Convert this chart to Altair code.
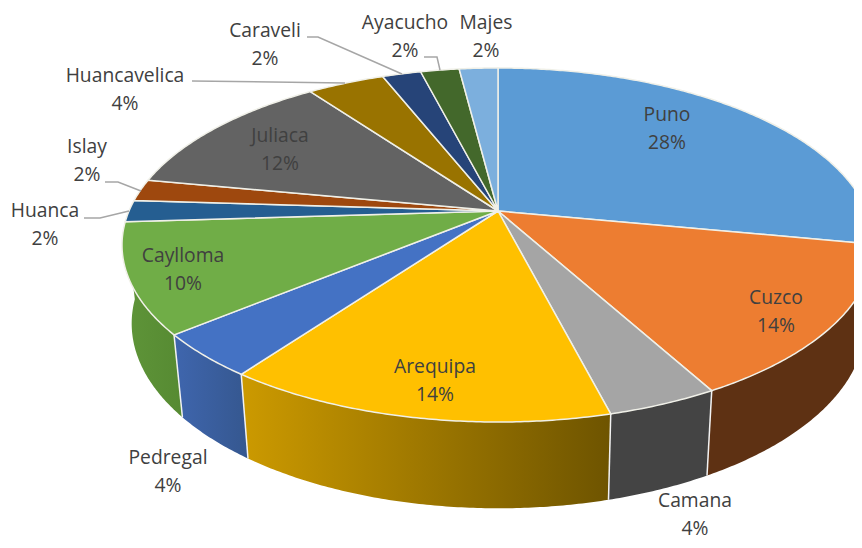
import math
import altair as alt

# ---- values ----
names = ["Puno", "Cuzco", "Camana", "Arequipa", "Pedregal", "Caylloma", "Huanca",
         "Islay", "Juliaca", "Huancavelica", "Caraveli", "Ayacucho", "Majes"]
values = [28, 14, 4, 14, 4, 10, 2, 2, 12, 4, 2, 2, 2]

# ---- styles ----
top_colors = ["#5b9bd5", "#ed7d31", "#a5a5a5", "#ffc000", "#4472c4", "#70ad47", "#255e91",
              "#9e480e", "#636363", "#997300", "#264478", "#43682b", "#7cafdd"]
side_left = {"Cuzco": "#5e3113", "Camana": "#444444", "Arequipa": "#cc9a00",
             "Pedregal": "#3f66ae", "Caylloma": "#5f9539"}
side_right = {"Cuzco": "#5e3113", "Camana": "#444444", "Arequipa": "#6e5400",
              "Pedregal": "#35578f", "Caylloma": "#568a32"}

# ---- layout (page pixels) ----
PAGE = 8
TOP = dict(cx=498.0, cy=211.0, b=369.0, a=170.5, k=0.192)
BOTTOM = dict(cx=498.5, cy=288.0, b=360.0, a=178.0, k=0.192)
label_x = [667, 776, 695, 435, 168, 183, 45, 87, 280, 125, 265, 405, 486]
label_y = [115, 298, 501, 367, 458, 256, 211, 147, 136, 76, 31, 23, 23]
LINE_GAP = 28
leaders = [
    [(307, 37), (318, 37), (402, 74)],
    [(192, 81), (345, 83)],
    [(105, 182), (118, 182), (141, 191)],
    [(84, 218), (100, 218), (129, 211)],
    [(424, 57), (437, 57), (440, 70)],
]


def rim(theta, m):
    t = math.radians(theta)
    X, Y = math.sin(t), math.cos(t)
    d = 1 + m["k"] * Y
    return [m["cx"] + m["b"] * X / d - PAGE, m["cy"] - m["a"] * Y / d - PAGE]


def arc(t0, t1, m):
    n = max(2, int(abs(t1 - t0) * 2))
    return [rim(t0 + (t1 - t0) * i / n, m) for i in range(n + 1)]


def feature(kind, coords, **props):
    return {"type": "Feature", "properties": props,
            "geometry": {"type": kind, "coordinates": coords}}


def dataset(features):
    return alt.InlineData(values={"type": "FeatureCollection", "features": features},
                          format=alt.DataFormat(type="json", property="features"))


identity = dict(type="identity", scale=1, translate=[0, 0])
FOLD = 259.0
total = sum(values)
bounds = [0]
for v in values:
    bounds.append(bounds[-1] + v)
angles = [b / total * 360 for b in bounds]

layers = []
edges = []
for i, name in enumerate(names):
    if name not in side_left:
        continue
    t0, t1 = angles[i], angles[i + 1]
    cuts = [t0, t1] if not (t0 < FOLD < t1) else [t0, FOLD, t1]
    polys = []
    for a, b in zip(cuts[:-1], cuts[1:]):
        ring = arc(a, b, TOP) + arc(b, a, BOTTOM)
        polys.append([ring + [ring[0]]])
    grad = alt.Gradient(gradient="linear", x1=1, x2=0, y1=0, y2=0,
                        stops=[alt.GradientStop(color=side_right[name], offset=0),
                               alt.GradientStop(color=side_left[name], offset=1)])
    layers.append(alt.Chart(dataset([feature("MultiPolygon", polys)]))
                  .mark_geoshape(fill=grad, strokeWidth=0)
                  .project(**identity))
    edges.append(feature("LineString", [rim(t0, TOP), rim(t0, BOTTOM)]))

layers.append(alt.Chart(dataset(edges))
              .mark_geoshape(filled=False, stroke="#f2f2f2", strokeWidth=1.5)
              .project(**identity))

tops = []
center = [TOP["cx"] - PAGE, TOP["cy"] - PAGE]
for i, name in enumerate(names):
    ring = [center] + arc(angles[i], angles[i + 1], TOP) + [center]
    tops.append(feature("Polygon", [ring], color=top_colors[i], name=name))
layers.append(alt.Chart(dataset(tops))
              .mark_geoshape(stroke="#f0f0e8", strokeWidth=1.5)
              .encode(color=alt.Color("properties.color:N", scale=None, legend=None))
              .project(**identity))

layers.append(alt.Chart(dataset([feature("LineString", [[x - PAGE, y - PAGE] for x, y in l]) for l in leaders]))
              .mark_geoshape(filled=False, stroke="#a6a6a6", strokeWidth=1.5)
              .project(**identity))

rows = []
for n, v, x, y in zip(names, values, label_x, label_y):
    rows.append({"x": x - PAGE, "y": y - PAGE, "t": n})
    rows.append({"x": x - PAGE, "y": y + LINE_GAP - PAGE, "t": f"{v}%"})
layers.append(alt.Chart(alt.Data(values=rows))
              .mark_text(font="Open Sans", fontSize=19.3, color="#404040", align="center", baseline="middle")
              .encode(x=alt.X("x:Q", scale=None, axis=None),
                      y=alt.Y("y:Q", scale=None, axis=None),
                      text="t:N"))

chart = (alt.layer(*layers)
         .properties(width=846, height=532, padding=0, background="white",
                     autosize=alt.AutoSizeParams(type="none"))
         .configure_view(stroke="transparent", strokeWidth=0))
chart.save("out.html", embed_options={"renderer": "svg", "actions": False})
